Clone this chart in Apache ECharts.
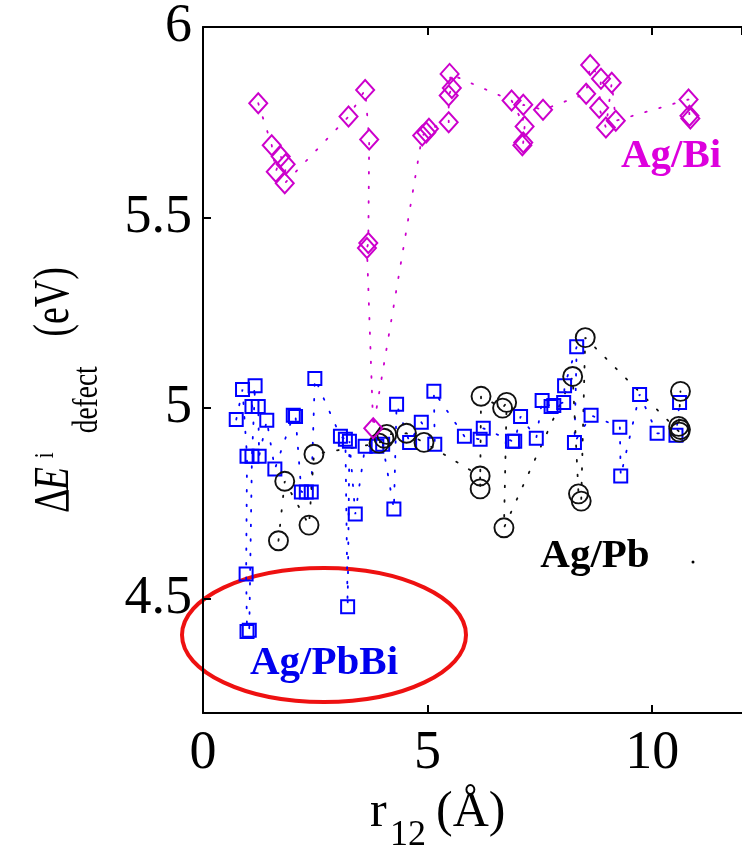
<!DOCTYPE html>
<html><head><meta charset="utf-8">
<script src="https://cdn.jsdelivr.net/npm/echarts@6/dist/echarts.min.js"></script>
<style>html,body{margin:0;padding:0;background:#fff}#c{width:742px;height:850px}</style>
</head><body><div id="c"></div>
<script>
// ---- data ----
const biX = [1.23,1.53,1.62,1.73,1.84,1.82,3.24,3.61,3.70,3.68,3.65,3.79,4.88,4.97,5.03,5.47,5.47,5.54,5.49,6.87,7.16,7.13,7.11,7.13,7.57,8.53,8.62,8.86,8.82,8.97,9.10,9.19,10.81,10.83,10.85];
const biY = [5.80,5.69,5.62,5.66,5.64,5.59,5.765,5.835,5.705,5.433,5.42,4.947,5.715,5.723,5.733,5.75,5.82,5.84,5.877,5.807,5.739,5.697,5.69,5.796,5.783,5.825,5.90,5.864,5.788,5.736,5.854,5.754,5.81,5.767,5.76];
const pbX = [1.68,1.82,2.36,2.47,3.92,4.03,4.09,4.53,4.92,6.17,6.17,6.19,6.67,6.76,6.70,8.23,8.36,8.42,8.51,10.61,10.63,10.59,10.63];
const pbY = [4.652,4.808,4.693,4.879,4.908,4.921,4.931,4.934,4.910,4.822,4.788,5.031,5.0,5.015,4.686,5.083,4.775,4.756,5.185,4.937,4.944,4.952,5.044];
const pbbiX = [0.74,0.88,0.98,0.96,0.98,1.03,1.09,1.16,1.09,1.23,1.25,1.42,1.60,2.01,2.06,2.19,2.30,2.41,2.49,3.06,3.17,3.22,3.26,3.39,3.61,3.87,4.00,4.25,4.31,4.60,4.86,5.16,5.14,5.82,6.17,6.24,6.89,6.94,7.07,7.42,7.55,7.75,7.81,8.03,8.05,8.32,8.27,8.64,9.28,9.30,9.72,10.11,10.53,10.61];
const pbbiY = [4.970,5.049,4.874,4.565,4.414,4.417,4.874,5.059,5.004,5.004,4.874,4.968,4.840,4.981,4.978,4.780,4.780,4.780,5.078,4.926,4.918,4.479,4.913,4.722,4.900,4.900,4.905,4.735,5.010,4.910,4.963,4.905,5.044,4.926,4.918,4.947,4.913,4.913,4.978,4.921,5.020,5.004,5.007,5.015,5.059,5.161,4.910,4.981,4.950,4.822,5.036,4.934,4.929,5.015];
const xTickValues = [0, 5, 10];
const yTickValues = [4.5, 5, 5.5, 6];
const seriesNames = ['Ag/PbBi', 'Ag/Pb', 'Ag/Bi'];

const FONT = '"Liberation Serif", "Times New Roman", serif';
const pairs = (xs, ys) => xs.map((x, i) => [x, ys[i]]);

// text helper: place text with its alphabetic baseline at by
function txt(text, x, by, size, fill, extra) {
  extra = extra || {};
  return {
    type: 'text', x: x, y: by - 0.3375 * size, silent: true,
    style: Object.assign({
      text: text, fill: fill || '#000',
      font: (extra.italic ? 'italic ' : '') + (extra.bold ? 'bold ' : '') + size + 'px ' + FONT,
      align: extra.align || 'left', verticalAlign: 'middle',
      textAlign: extra.align || 'left', textVerticalAlign: 'middle'
    })
  };
}

const chart = echarts.init(document.getElementById('c'), null, {renderer: 'canvas'});
const axisLineStyle = {color: '#000', width: 2};
const dotted = [1.6, 13];

function lineSeries(name, data, symbol, size, color, bw) {
  return {
    type: 'line', name: name, data: data, symbol: symbol, symbolSize: size,
    showAllSymbol: true, animation: false, silent: true,
    itemStyle: {color: 'rgba(255,255,255,0)', borderColor: color, borderWidth: bw},
    lineStyle: {color: color, width: 1.8, type: dotted, cap: 'round'},
    emphasis: {disabled: true}
  };
}

chart.setOption({
  animation: false,
  backgroundColor: '#fff',
  grid: {left: 203, top: 26, right: -9.4, bottom: 137, containLabel: false},
  xAxis: [{
    type: 'value', min: 0, max: 12, interval: 5, position: 'bottom',
    axisLine: {show: true, lineStyle: axisLineStyle},
    axisTick: {show: true, inside: true, length: 8, lineStyle: axisLineStyle},
    axisLabel: {show: true, fontFamily: FONT, fontSize: 54, color: '#000', margin: 14,
      showMaxLabel: false,
      formatter: v => xTickValues.indexOf(v) >= 0 ? String(v) : ''},
    splitLine: {show: false}
  }, {
    type: 'value', min: 0, max: 12, interval: 5, position: 'top',
    axisLine: {show: true, lineStyle: axisLineStyle},
    axisTick: {show: true, inside: true, length: 8, lineStyle: axisLineStyle},
    axisLabel: {show: false}, splitLine: {show: false}
  }],
  yAxis: [{
    type: 'value', min: 4.2, max: 6, splitNumber: 4, position: 'left',
    axisLine: {show: true, lineStyle: axisLineStyle},
    axisTick: {show: true, inside: true, length: 8, lineStyle: axisLineStyle},
    axisLabel: {show: true, fontFamily: FONT, fontSize: 54, color: '#000', margin: 11,
      showMinLabel: false,
      formatter: v => yTickValues.some(t => Math.abs(t - v) < 1e-9) ? String(v) : ''},
    splitLine: {show: false}
  }],
  series: [
    lineSeries(seriesNames[0], pairs(pbbiX, pbbiY), 'rect', 13, '#0000ff', 2),
    lineSeries(seriesNames[1], pairs(pbX, pbY), 'circle', 19, '#111111', 1.9),
    lineSeries(seriesNames[2], pairs(biX, biY), 'diamond', [18, 20], '#cc00cc', 2)
  ],
  graphic: [
    {type: 'ellipse', silent: true, shape: {cx: 324, cy: 635, rx: 142, ry: 67},
     style: {fill: 'none', stroke: '#ee1111', lineWidth: 4}},
    txt('Ag/Bi', 671, 170, 41, '#dd00dd', {bold: true, align: 'center'}),
    txt('Ag/Pb', 595, 570, 41, '#000', {bold: true, align: 'center'}),
    {type: 'circle', silent: true, shape: {cx: 693, cy: 562, r: 1.5}, style: {fill: '#000'}},
    txt('Ag/PbBi', 324, 677, 41, '#0000ee', {bold: true, align: 'center'}),
    // x-axis title r12 (Å)
    txt('r', 370, 830, 50),
    txt('12', 390, 848, 36),
    txt('(Å)', 436, 830, 50),
    // y-axis title rotated
    {type: 'group', x: 72, y: 513, rotation: Math.PI / 2, scaleX: 0.76, scaleY: 1, silent: true,
     children: [
       txt('Δ', 0, 0, 50),
       txt('E', 30, 0, 50, '#000', {italic: true}),
       txt('i', 72, -17, 28),
       txt('defect', 105, 28, 36),
       txt('(eV)', 232, 0, 50)
     ]}
  ]
});
</script></body></html>
